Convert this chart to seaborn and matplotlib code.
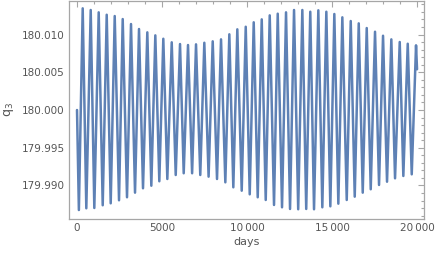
import numpy as np
import pandas as pd
import matplotlib
matplotlib.use("Agg")
import matplotlib.pyplot as plt
import seaborn as sns
from matplotlib.ticker import MultipleLocator, FuncFormatter

# values: local maxima and minima of q3 (days, degrees)
peak_days = [335, 806, 1276, 1747, 2218, 2688, 3176, 3647, 4135, 4606,
             5076, 5571, 6059, 6529, 7000, 7488, 7982, 8471, 8959, 9429,
             9924, 10394, 10865, 11335, 11806, 12294, 12765, 13253, 13720, 14194,
             14665, 15135, 15606, 16100, 16571, 17041, 17529, 18000, 18488, 18982,
             19453, 19941]
peak_vals = [180.01347, 180.01325, 180.01294, 180.01262, 180.01245, 180.01205, 180.01139,
             180.01073, 180.01029, 180.00989, 180.00944, 180.00897, 180.00874, 180.00861,
             180.00870, 180.00891, 180.00910, 180.00936, 180.01003, 180.01069, 180.01103,
             180.01162, 180.01201, 180.01254, 180.01276, 180.01294, 180.01325, 180.01325,
             180.01302, 180.01321, 180.01302, 180.01272, 180.01228, 180.01179, 180.01148,
             180.01086, 180.01037, 180.00984, 180.00936, 180.00901, 180.00878, 180.00857]

trough_days = [110, 547, 1018, 1512, 1982, 2471, 2941, 3412, 3882, 4371,
               4841, 5312, 5806, 6276, 6770, 7250, 7740, 8235, 8724, 9194,
               9688, 10159, 10629, 11100, 11588, 12059, 12530, 13010, 13482, 13941,
               14429, 14900, 15371, 15865, 16335, 16806, 17276, 17765, 18235, 18706,
               19194, 19688]
trough_vals = [179.98675, 179.98698, 179.98702, 179.98738, 179.98764, 179.98804, 179.98844,
               179.98905, 179.98963, 179.98997, 179.99056, 179.99086, 179.99139, 179.99162,
               179.99162, 179.99139, 179.99117, 179.99086, 179.99042, 179.98976, 179.98931,
               179.98883, 179.98844, 179.98808, 179.98742, 179.98711, 179.98689, 179.98685,
               179.98689, 179.98685, 179.98711, 179.98724, 179.98759, 179.98808, 179.98852,
               179.98905, 179.98950, 179.99007, 179.99050, 179.99095, 179.99126, 179.99148]

start_point = (0, 180.0)
end_point = (20000, 180.0054)

x_ticks = [0, 5000, 10000, 15000, 20000]
y_ticks = [179.990, 179.995, 180.000, 180.005, 180.010]

# build one table of extrema in time order
df = pd.DataFrame({
    "days": [start_point[0]] + peak_days + trough_days + [end_point[0]],
    "q3": [start_point[1]] + peak_vals + trough_vals + [end_point[1]],
}).sort_values("days")

sns.set_theme(style="white")
plt.rcParams["font.family"] = ["DejaVu Sans"]

frame_col = "#a6a6a6"
text_col = "#555555"


def day_fmt(v, p):
    # digit grouping only for five or more digits, like the original
    n = int(round(v))
    if abs(n) >= 10000:
        return f"{n:,}".replace(",", "\u2009")
    return str(n)


fig = plt.figure(figsize=(4.36, 2.59), dpi=100)
ax = fig.add_axes([0.1583, 0.1544, 0.8142, 0.8417])

sns.lineplot(data=df, x="days", y="q3", ax=ax, color="#5e81b5",
             linewidth=1.8, estimator=None, sort=True)

ax.set_xlim(-470, 20410)
ax.set_ylim(179.98556, 180.01444)

ax.set_xticks(x_ticks)
ax.set_yticks(y_ticks)
ax.xaxis.set_minor_locator(MultipleLocator(1000))
ax.yaxis.set_minor_locator(MultipleLocator(0.001))
ax.xaxis.set_major_formatter(FuncFormatter(day_fmt))
ax.yaxis.set_major_formatter(FuncFormatter(lambda v, p: f"{v:.3f}"))

ax.tick_params(which="both", direction="in", top=True, right=True,
               color=frame_col, labelcolor=text_col, labelsize=7.5, width=0.8)
ax.tick_params(which="major", length=4, pad=3)
ax.tick_params(which="minor", length=2)
for sp in ax.spines.values():
    sp.set_color(frame_col)
    sp.set_linewidth(0.9)

ax.set_xlabel("days", color=text_col, fontsize=8, labelpad=3)
ax.set_ylabel(r"$\mathrm{q}_3$", color=text_col, fontsize=9, labelpad=4)

fig.savefig("out.png", dpi=100)
